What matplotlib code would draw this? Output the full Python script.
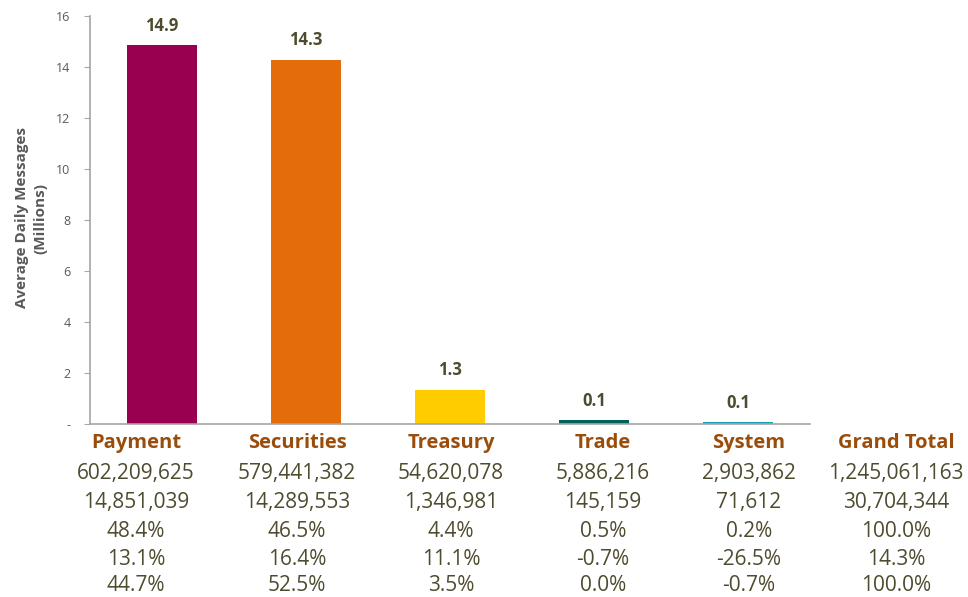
import matplotlib
matplotlib.use("Agg")
import matplotlib.pyplot as plt

categories = ["Payment", "Securities", "Treasury", "Trade", "System"]
total_label = "Grand Total"
daily_avg = [14851039, 14289553, 1346981, 145159, 71612]
bar_colors = ["#990050", "#E46C0A", "#FFCC00", "#00625A", "#1B9EB8"]

row_total = ["602,209,625", "579,441,382", "54,620,078", "5,886,216", "2,903,862", "1,245,061,163"]
row_daily = ["14,851,039", "14,289,553", "1,346,981", "145,159", "71,612", "30,704,344"]
row_share = ["48.4%", "46.5%", "4.4%", "0.5%", "0.2%", "100.0%"]
row_growth = ["13.1%", "16.4%", "11.1%", "-0.7%", "-26.5%", "14.3%"]
row_contrib = ["44.7%", "52.5%", "3.5%", "0.0%", "-0.7%", "100.0%"]

yticks = [0, 2, 4, 6, 8, 10, 12, 14, 16]
ytick_labels = ["-", "2", "4", "6", "8", "10", "12", "14", "16"]

W, H = 968, 597
fig = plt.figure(figsize=(W / 100, H / 100), dpi=100)
plt.rcParams['font.family'] = ['Open Sans', 'DejaVu Sans']

left, right, top, bottom = 90, 810, 16, 424
ax = fig.add_axes([left / W, 1 - bottom / H, (right - left) / W, (bottom - top) / H])

vals = [v / 1e6 for v in daily_avg]
x = list(range(len(categories)))
ax.bar(x, vals, width=0.49, color=bar_colors)
ax.set_xlim(-0.5, 4.5)
ax.set_ylim(0, 16)
ax.set_yticks(yticks)
ax.set_yticklabels(ytick_labels)
ax.set_xticks([])
for s in ["top", "right"]:
    ax.spines[s].set_visible(False)
for s in ["left", "bottom"]:
    ax.spines[s].set_color("#A6A6A6")
    ax.spines[s].set_linewidth(1.2)
ax.tick_params(axis="y", colors="#A6A6A6", labelcolor="#595959", labelsize=9, length=4, pad=10)

label_color = "#4F4B2F"
for xi, v in zip(x, vals):
    ax.text(xi, v + 0.4, f"{v:.1f}", ha="center", va="bottom", fontsize=12,
            fontweight="bold", color=label_color)

fig.text(31 / W, 1 - 218 / H, "Average Daily Messages\n(Millions)", rotation=90,
         ha="center", va="center", fontsize=11, fontweight="bold", color="#595959",
         linespacing=1.4)

# table below the chart (column centres and baselines in pixels)
col_px = [136, 297, 451, 603, 749, 896]
headers = categories + [total_label]
header_color = "#9A4D0A"
text_color = "#4F4B2F"
for cx, h in zip(col_px, headers):
    fig.text(cx / W, 1 - 448 / H, h, ha="center", va="baseline",
             fontsize=14.5, fontweight="bold", color=header_color)
rows = [row_total, row_daily, row_share, row_growth, row_contrib]
row_base = [479, 508, 537, 565, 591]
for ry, row in zip(row_base, rows):
    for cx, t in zip(col_px, row):
        fig.text(cx / W, 1 - ry / H, t, ha="center", va="baseline",
                 fontsize=15, color=text_color)

fig.savefig("out.png", dpi=100)
